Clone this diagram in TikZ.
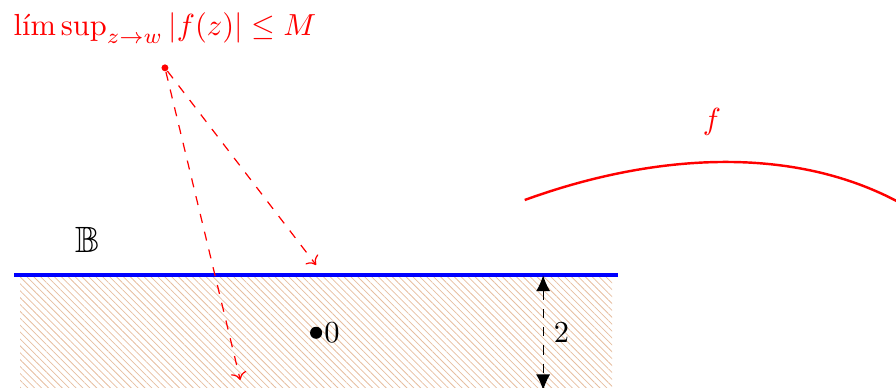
\documentclass[tikz,border=0pt]{standalone}
\usepackage{amsmath,amssymb}
\usetikzlibrary{arrows.meta,patterns.meta}

\definecolor{hatch}{RGB}{230,190,160}

\tikzset{
  bdry/.style={blue, line width=1.4pt},
  limarrow/.style={red, dashed, ->},
  widthtip/.style={Latex[length=5.2pt,width=4.6pt]},
}

\begin{document}
\begin{tikzpicture}[x=0.663cm,y=0.663cm]
\useasboundingbox (-5.50,-0.957) rectangle (10.09,5.79);
\clip (-5.50,-0.957) rectangle (10.09,5.79);

% the strip and its two edges
\fill[pattern={Lines[angle=-45,distance=1.6pt,line width=0.25pt]}, pattern color=hatch] (-5.15,-1) rectangle (5.15,1);
\draw[bdry] (-5.25,1) -- (5.25,1);
\draw[bdry] (-5.25,-1) -- (5.25,-1);

\node[font=\large] (ball) at (-3.97,1.62) {$\mathbb{B}$};

% origin
\node[circle, fill, inner sep=1.4pt, label={[inner sep=0.3pt]right:$0$}] (origin) at (0,0) {};

% width of the strip
\coordinate (wtop) at (3.95,1);
\coordinate (wbot) at (3.95,-1);
\draw[dashed, {Latex[length=5.2pt,width=4.6pt]}-{Latex[length=5.2pt,width=4.6pt]}] (wtop) -- node[right] (width) {$2$} (wbot);

% boundary point and the limit
\node[circle, fill=red, inner sep=0.8pt] (w) at (-2.63,4.61) {};
\node[red] (bound) at (-2.63,5.30) {$\mathop{\text{lím\,sup}}_{z\to w}|f(z)|\le M$};
\coordinate (near) at (0,1.18);
\coordinate (deep) at (-1.32,-0.82);
\draw[limarrow] (w) -- (near);
\draw[limarrow] (w) -- (deep);

% the map
\coordinate (fstart) at (3.63,2.31);
\coordinate (fend) at (10.6,2.0);
\draw[red, thick, -{Stealth}] (fstart) .. controls (5.8,3.1) and (8.4,3.35) .. (fend);
\node[red] (fname) at (6.89,3.67) {$f$};

\end{tikzpicture}
\end{document}
